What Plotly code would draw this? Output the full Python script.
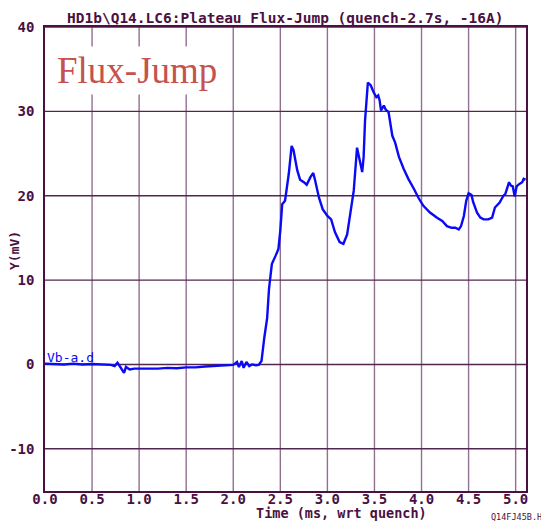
import plotly.graph_objects as go

# ---- data ----
time_ms = [0.00, 0.10, 0.20, 0.30, 0.40, 0.50, 0.60, 0.70, 0.74, 0.77, 0.80, 0.84, 0.86, 0.90,
           0.95, 1.00, 1.10, 1.20, 1.30, 1.40, 1.50, 1.60, 1.70, 1.80, 1.90, 2.00, 2.04, 2.06,
           2.09, 2.11, 2.14, 2.17, 2.20, 2.24, 2.27,
           2.30, 2.33, 2.36, 2.38, 2.41, 2.45, 2.48, 2.50, 2.52, 2.55, 2.59, 2.62, 2.64, 2.68,
           2.71, 2.75, 2.78, 2.82, 2.85, 2.87, 2.91, 2.95, 3.00, 3.04, 3.08, 3.13, 3.17, 3.21,
           3.24, 3.28, 3.315, 3.34, 3.37, 3.385, 3.40, 3.43, 3.46, 3.49, 3.52, 3.54, 3.555, 3.57,
           3.60, 3.62, 3.65, 3.67, 3.69, 3.72, 3.76, 3.81, 3.86, 3.92, 3.97, 4.02, 4.09, 4.165,
           4.22, 4.27, 4.32, 4.36, 4.395, 4.42, 4.45, 4.475, 4.50, 4.53, 4.55, 4.59, 4.625, 4.66,
           4.71, 4.75, 4.78, 4.83, 4.87, 4.89, 4.93, 4.95, 4.97, 4.99, 5.01, 5.04, 5.07, 5.085,
           5.105]
voltage_mv = [0.1, 0.05, 0.0, 0.1, 0.0, 0.05, 0.0, -0.05, -0.2, 0.2, -0.3, -1.0, -0.3, -0.6,
              -0.5, -0.5, -0.45, -0.5, -0.4, -0.45, -0.35, -0.35, -0.25, -0.2, -0.1, -0.05, 0.3, -0.3,
              0.4, -0.4, 0.3, -0.2, 0.0, -0.1, -0.05,
              0.4, 3.2, 5.5, 9.0, 11.9, 12.9, 13.7, 15.9, 19.0, 19.4, 22.6, 25.9, 25.4, 23.0,
              21.9, 21.6, 21.3, 22.2, 22.7, 21.8, 19.8, 18.4, 17.6, 17.2, 15.7, 14.5, 14.3, 15.4,
              17.8, 20.6, 25.7, 24.3, 22.8, 24.6, 28.9, 33.4, 33.1, 32.3, 31.7, 31.9, 31.3, 30.1,
              30.7, 30.2, 29.9, 28.5, 27.1, 26.3, 24.6, 23.2, 22.0, 20.8, 19.7, 18.8, 18.0, 17.4,
              17.0, 16.4, 16.2, 16.2, 16.0, 16.4, 17.6, 19.4, 20.3, 20.1, 19.2, 18.0, 17.4, 17.2,
              17.2, 17.4, 18.6, 19.2, 20.0, 20.2, 21.6, 21.2, 21.1, 19.9, 21.1, 21.4, 21.6, 22.0,
              21.9]

x_ticks = [0.0, 0.5, 1.0, 1.5, 2.0, 2.5, 3.0, 3.5, 4.0, 4.5, 5.0]
x_tick_labels = ["0.0", "0.5", "1.0", "1.5", "2.0", "2.5", "3.0", "3.5", "4.0", "4.5", "5.0"]
y_ticks = [-10, 0, 10, 20, 30, 40]
y_tick_labels = ["-10", "0", "10", "20", "30", "40"]

title_text = "HD1b\\Q14.LC6:Plateau Flux-Jump (quench-2.7s, -16A)"
x_title = "Time (ms, wrt quench)"
y_title = "Y(mV)"
trace_label = "Vb-a.d"
stamp = "Q14FJ45B.H0"
big_label = "Flux-Jump"

INK = "#4a1042"
MONO = "DejaVu Sans Mono"
# the page body has an 8px margin, so the figure is drawn 8px in and 8px down
W, H = 541, 515
L, R, T, B = 37, 23, 19, 32
PW, PH = W - L - R, H - T - B

fig = go.Figure()
fig.add_trace(go.Scatter(x=time_ms, y=voltage_mv, mode="lines",
                         line=dict(color="#0a0af5", width=2.4), showlegend=False))

# vertical grid lines (lighter), horizontal (darker)
for xv in x_ticks[1:]:
    fig.add_shape(type="line", xref="x", yref="paper", x0=xv, x1=xv, y0=0, y1=1,
                  line=dict(color="#927090", width=1.4), layer="below")
for yv in y_ticks:
    fig.add_shape(type="line", xref="paper", yref="y", x0=0, x1=1, y0=yv, y1=yv,
                  line=dict(color="#532650", width=1.4), layer="below")

fig.update_layout(
    width=W, height=H,
    margin=dict(l=L, r=R, t=T, b=B, autoexpand=False),
    paper_bgcolor="white", plot_bgcolor="white",
    font=dict(family=MONO, color=INK, size=13),
    xaxis=dict(range=[0, 5.11], tickvals=x_ticks, ticktext=x_tick_labels, showgrid=False,
               zeroline=False, showline=True, mirror=True, linecolor=INK, linewidth=1.5,
               ticks="", automargin=False, ticklabelstandoff=-6,
               tickfont=dict(family=MONO, size=14, color=INK, weight="bold")),
    yaxis=dict(range=[-15, 40], tickvals=y_ticks, ticktext=y_tick_labels, showgrid=False,
               zeroline=False, showline=True, mirror=True, linecolor=INK, linewidth=1.5,
               ticks="", ticklabelstandoff=6, automargin=False,
               tickfont=dict(family=MONO, size=14, color=INK, weight="bold")),
)

fig.add_annotation(text=title_text, xref="paper", yref="paper", x=0.5, y=1.0, yshift=9,
                   showarrow=False, xanchor="center", yanchor="middle",
                   font=dict(family=MONO, size=14.5, color=INK, weight="bold"))
fig.add_annotation(text=x_title, x=(333 - L) / PW, xref="paper", yref="paper", y=0,
                   yshift=-(505 - (H - B)), showarrow=False, xanchor="center", yanchor="middle",
                   font=dict(family=MONO, size=13.5, color=INK, weight="bold"))
fig.add_annotation(text=y_title, xref="paper", yref="paper", x=0, xshift=-(L - 7),
                   y=(H - B - 243) / PH, showarrow=False, textangle=-90,
                   xanchor="center", yanchor="middle",
                   font=dict(family=MONO, size=13, color=INK, weight="bold"))
fig.add_annotation(text=trace_label, xref="x", yref="y", x=0.0, y=0, xanchor="left",
                   yanchor="bottom", yshift=-3, showarrow=False,
                   font=dict(family=MONO, size=13, color="#0a0af5"))
fig.add_annotation(text=stamp, xref="paper", yref="paper", x=1.0, xshift=-37, y=0,
                   yshift=-(509 - (H - B)), xanchor="left", yanchor="middle", showarrow=False,
                   font=dict(family=MONO, size=8.5, color=INK))
fig.add_annotation(text=big_label, xref="paper", yref="paper", x=0, xshift=8, y=1,
                   yshift=-19, xanchor="left", yanchor="top", showarrow=False,
                   bgcolor="white", borderpad=3,
                   font=dict(family="Liberation Serif", size=37, color="#c4524e"))

fig.write_html("out.html")
